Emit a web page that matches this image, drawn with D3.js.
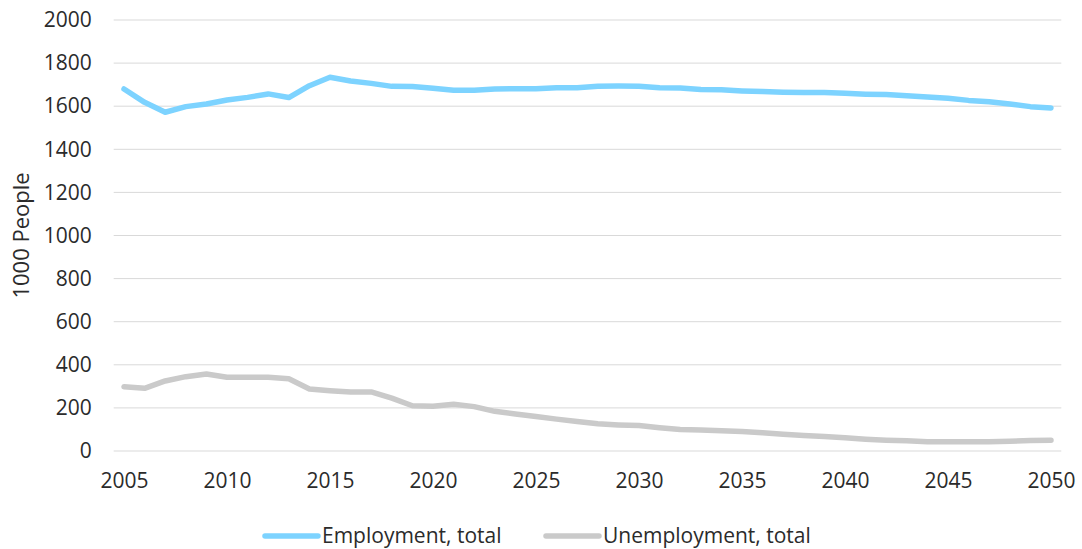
<!DOCTYPE html>
<html>
<head>
<meta charset="utf-8">
<script src="https://cdn.jsdelivr.net/npm/d3@7"></script>
<style>
  body { margin: 0; background: #fff; }
  svg text { font-family: "Open Sans", sans-serif; fill: #2b2b2b; }
</style>
</head>
<body>
<svg id="chart" width="1082" height="549"></svg>
<script>
(function() {
  'use strict';

  var years = d3.range(2005, 2051);
  var yTicks = [0, 200, 400, 600, 800, 1000, 1200, 1400, 1600, 1800, 2000];
  var xTicks = [2005, 2010, 2015, 2020, 2025, 2030, 2035, 2040, 2045, 2050];
  var seriesNames = ['Employment, total', 'Unemployment, total'];
  var seriesColors = ['#7dd3ff', '#cacaca'];

  var employment = [1680, 1618, 1572, 1598, 1610, 1629, 1641, 1657, 1640, 1695,
    1734, 1717, 1706, 1692, 1691, 1683, 1674, 1674, 1680, 1681,
    1681, 1686, 1686, 1693, 1694, 1693, 1686, 1684, 1678, 1676,
    1671, 1668, 1665, 1663, 1664, 1660, 1656, 1654, 1649, 1643,
    1637, 1627, 1621, 1610, 1598, 1592];
  var unemployment = [298, 291, 325, 345, 357, 342, 342, 342, 335, 288,
    280, 274, 274, 245, 210, 208, 217, 206, 184, 172,
    160, 148, 137, 126, 121, 118, 108, 100, 97, 94,
    90, 85, 78, 72, 67, 61, 55, 50, 47, 43,
    43, 43, 43, 45, 49, 50];

  var svg = d3.select('#chart');

  var x = d3.scaleLinear().domain([2005, 2050]).range([124, 1051]);
  var y = d3.scaleLinear().domain([0, 2000]).range([451, 20]);
  var halfStep = (x(2006) - x(2005)) / 2;

  // gridlines
  svg.append('g')
    .selectAll('line')
    .data(yTicks)
    .enter().append('line')
      .attr('x1', x(2005) - halfStep)
      .attr('x2', x(2050) + halfStep)
      .attr('y1', function(d) { return y(d); })
      .attr('y2', function(d) { return y(d); })
      .attr('stroke', '#d9d9d9')
      .attr('stroke-width', 1);

  // y axis labels
  var yAxis = svg.append('g')
    .attr('transform', 'translate(' + (x(2005) - halfStep) + ',0)')
    .call(d3.axisLeft(y).tickValues(yTicks).tickFormat(d3.format('d')).tickSize(0).tickPadding(22));
  yAxis.select('.domain').remove();
  yAxis.selectAll('text')
    .attr('font-size', 21)
    .attr('font-family', '"Open Sans", sans-serif')
    .attr('fill', '#2b2b2b');

  // x axis labels
  var xAxis = svg.append('g')
    .attr('transform', 'translate(0,' + y(0) + ')')
    .call(d3.axisBottom(x).tickValues(xTicks).tickFormat(d3.format('d')).tickSize(0).tickPadding(22));
  xAxis.select('.domain').remove();
  xAxis.selectAll('text')
    .attr('font-size', 21)
    .attr('font-family', '"Open Sans", sans-serif')
    .attr('fill', '#2b2b2b');

  // axis title
  svg.append('text')
    .attr('transform', 'translate(29,' + ((y(0) + y(2000)) / 2) + ') rotate(-90)')
    .attr('text-anchor', 'middle')
    .attr('font-size', 22)
    .text('1000 People');

  var line = d3.line()
    .x(function(d, i) { return x(years[i]); })
    .y(function(d) { return y(d); });

  [employment, unemployment].forEach(function(series, i) {
    svg.append('path')
      .datum(series)
      .attr('fill', 'none')
      .attr('stroke', seriesColors[i])
      .attr('stroke-width', 5.5)
      .attr('stroke-linejoin', 'round')
      .attr('stroke-linecap', 'round')
      .attr('d', line);
  });

  // legend
  var legendX = [265, 546];
  var legend = svg.append('g');
  seriesNames.forEach(function(name, i) {
    legend.append('line')
      .attr('x1', legendX[i]).attr('x2', legendX[i] + 53)
      .attr('y1', 536).attr('y2', 536)
      .attr('stroke', seriesColors[i])
      .attr('stroke-width', 5.5)
      .attr('stroke-linecap', 'round');
    legend.append('text')
      .attr('x', legendX[i] + 57)
      .attr('y', 543)
      .attr('font-size', 21)
      .text(name);
  });
}());
</script>
</body>
</html>
